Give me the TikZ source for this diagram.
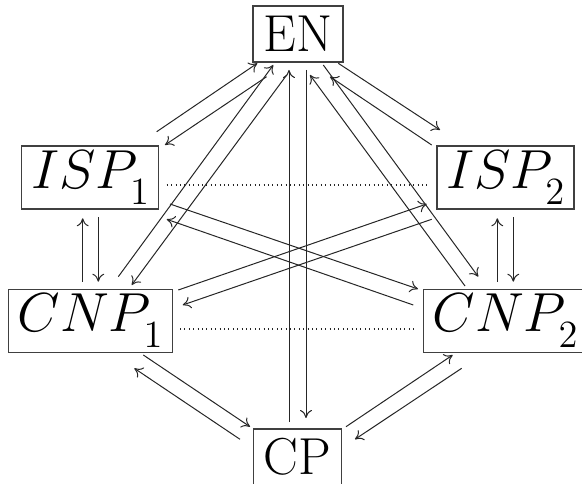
\documentclass[tikz,border=0pt]{standalone}
\usepackage{fontspec}
\newfontfamily\bigrm{lmroman17-regular}[Extension=.otf]
\DeclareFontShape{OML}{cmm}{m}{it}{<->cmmi12}{}
\DeclareFontShape{OT1}{cmr}{m}{n}{<->cmr12}{}
\usetikzlibrary{arrows.meta}
\begin{document}
\begin{tikzpicture}[x=1pt,y=-1pt,
  box/.style={draw=black!75,line width=1.1pt,inner sep=0pt,font=\fontsize{55}{60}\selectfont\bigrm},
  rbox/.style={box,font=\fontsize{52}{60}\selectfont\bigrm,minimum width=90pt,minimum height=56pt},
  lk/.style={->,line width=1pt,draw=black!85},
  dotl/.style={line width=1.1pt,draw=black!85,dash pattern=on 1pt off 3.4pt},
  >={Computer Modern Rightarrow[length=8pt,width=12pt]}]
\useasboundingbox (0,0) rectangle (582,484);
\node[rbox] (EN) at (298,34) {EN};
\node[box,minimum width=137pt,minimum height=63pt] (ISP1) at (90.3,177.5) {$ISP_1$};
\node[box,minimum width=137pt,minimum height=63pt] (ISP2) at (505.5,177.5) {$ISP_2$};
\node[box,minimum width=164pt,minimum height=63pt] (CNP1) at (90.3,320.8) {$CNP_1$};
\node[box,minimum width=164pt,minimum height=63pt] (CNP2) at (505.3,320.8) {$CNP_2$};
\node[rbox,minimum width=88.4pt] (CP) at (297.5,457) {CP};
% EN <-> ISP1
\draw[lk] ([shift={(66.4,-45.8)}]ISP1.center) -- ([shift={(-40.7,29.3)}]EN.center);
\draw[lk] ([shift={(-31.4,42.7)}]EN.center) -- ([shift={(74.7,-32.5)}]ISP1.center);
% EN <-> CNP1
\draw[lk] ([shift={(28,-44.1)}]CNP1.center) -- ([shift={(-24.7,31)}]EN.center);
\draw[lk] ([shift={(-11.3,41)}]EN.center) -- ([shift={(41.4,-35.8)}]CNP1.center);
% EN <-> CP
\draw[lk] ([shift={(-8.5,-35)}]CP.center) -- ([shift={(-9,36)}]EN.center);
\draw[lk] ([shift={(8,36)}]EN.center) -- ([shift={(8.5,-39)}]CP.center);
% EN <-> CNP2
\draw[lk] ([shift={(-40.3,-34.8)}]CNP2.center) -- ([shift={(12,41)}]EN.center);
\draw[lk] ([shift={(25.3,31)}]EN.center) -- ([shift={(-27,-44.1)}]CNP2.center);
% EN <-> ISP2
\draw[lk] ([shift={(-73.8,-32.5)}]ISP2.center) -- ([shift={(32,42.7)}]EN.center);
\draw[lk] ([shift={(40.3,29.3)}]EN.center) -- ([shift={(-65.5,-47.5)}]ISP2.center);
% ISP1 <-> CNP1
\draw[lk] ([shift={(-7.6,-39.1)}]CNP1.center) -- ([shift={(-7.6,40.8)}]ISP1.center);
\draw[lk] ([shift={(8,39.8)}]ISP1.center) -- ([shift={(8,-39.1)}]CNP1.center);
% ISP2 <-> CNP2
\draw[lk] ([shift={(-8,-39.1)}]CNP2.center) -- ([shift={(-8.2,40.8)}]ISP2.center);
\draw[lk] ([shift={(7.8,39.8)}]ISP2.center) -- ([shift={(8,-39.1)}]CNP2.center);
% crossings
\draw[lk] ([shift={(79.7,26.5)}]ISP1.center) -- ([shift={(-87.3,-31.8)}]CNP2.center);
\draw[lk] ([shift={(-92,-15.8)}]CNP2.center) -- ([shift={(76.4,41.8)}]ISP1.center);
\draw[lk] ([shift={(88,-30.8)}]CNP1.center) -- ([shift={(-78.8,26.5)}]ISP2.center);
\draw[lk] ([shift={(-73.8,41.8)}]ISP2.center) -- ([shift={(92.4,-15.8)}]CNP1.center);
% CP <-> CNP1, CNP2
\draw[lk] ([shift={(53,34.2)}]CNP1.center) -- ([shift={(-47.5,-30.3)}]CP.center);
\draw[lk] ([shift={(-57.5,-17.7)}]CP.center) -- ([shift={(44,47.5)}]CNP1.center);
\draw[lk] ([shift={(48.5,-30.3)}]CP.center) -- ([shift={(-52.6,34.2)}]CNP2.center);
\draw[lk] ([shift={(-43.6,47.5)}]CNP2.center) -- ([shift={(57.5,-17.7)}]CP.center);
% dotted
\draw[dotl] ([shift={(76.4,7.5)}]ISP1.center) -- ([shift={(-77.2,7.5)}]ISP2.center);
\draw[dotl] ([shift={(89.7,8.2)}]CNP1.center) -- ([shift={(-88.6,8.2)}]CNP2.center);
\end{tikzpicture}
\end{document}
